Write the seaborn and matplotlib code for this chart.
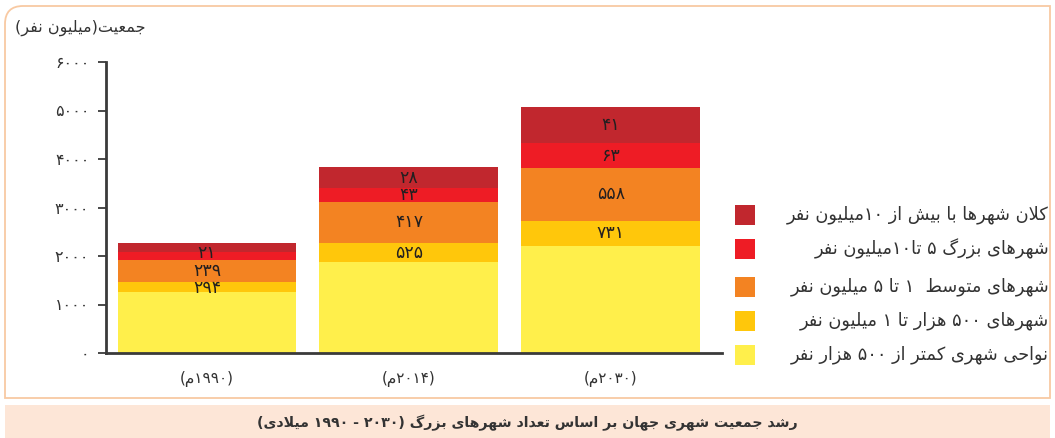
import unicodedata
import numpy as np
import matplotlib
matplotlib.use("Agg")
import matplotlib.pyplot as plt
from matplotlib.patches import Rectangle, PathPatch
from matplotlib.path import Path
import seaborn as sns

# ---------------- data ----------------
years = ["۱۹۹۰", "۲۰۱۴", "۲۰۳۰"]
xtick_labels = ["(۱۹۹۰م)", "(۲۰۱۴م)", "(۲۰۳۰م)"]
# population (million) per city-size class, bottom -> top
small_areas = [1268, 1872, 2214]      # < 500k
cities_500k_1m = [206, 391, 508]
medium_1_5m = [447, 858, 1097]
large_5_10m = [171, 274, 502]
mega_10m = [185, 446, 753]
# number of cities shown on segments (None = no label)
count_500k_1m = ["۲۹۴", "۵۲۵", "۷۳۱"]
count_medium = ["۲۳۹", "۴۱۷", "۵۵۸"]
count_large = ["۲۱", "۴۳", "۶۳"]
count_mega = [None, "۲۸", "۴۱"]

series_names = [
    "نواحی شهری کمتر از ۵۰۰ هزار نفر",
    "شهرهای ۵۰۰ هزار تا ۱ میلیون نفر",
    "شهرهای متوسط  ۱ تا ۵ میلیون نفر",
    "شهرهای بزرگ ۵ تا۱۰میلیون نفر",
    "کلان شهرها با بیش از ۱۰میلیون نفر",
]
colors = ["#FFEF4B", "#FFC70B", "#F38322", "#EE1C25", "#C1272E"]
yticks = [0, 1000, 2000, 3000, 4000, 5000, 6000]
ytick_labels = ["۰", "۱۰۰۰", "۲۰۰۰", "۳۰۰۰", "۴۰۰۰", "۵۰۰۰", "۶۰۰۰"]
ylabel = "جمعیت(میلیون نفر)"
title = "رشد جمعیت شهری جهان بر اساس تعداد شهرهای بزرگ (۲۰۳۰ - ۱۹۹۰ میلادی)"

# ---------------- Arabic/Persian shaping + simple bidi ----------------
def _lookup(name):
    try:
        return unicodedata.lookup(name)
    except KeyError:
        return None

ALEFS = set("اآأإ")

def _unit(ch):
    try:
        name = unicodedata.name(ch)
    except ValueError:
        return (ch, "U", None)
    if not name.startswith("ARABIC LETTER"):
        return (ch, "U", None)
    f = {
        "iso": _lookup(name + " ISOLATED FORM") or ch,
        "fin": _lookup(name + " FINAL FORM"),
        "ini": _lookup(name + " INITIAL FORM"),
        "med": _lookup(name + " MEDIAL FORM"),
    }
    if f["ini"] and f["med"] and f["fin"]:
        return (ch, "D", f)
    if f["fin"]:
        return (ch, "R", f)
    return (ch, "U", None)

def shape(text):
    units = []
    i = 0
    while i < len(text):
        ch = text[i]
        if ch == "ل" and i + 1 < len(text) and text[i + 1] in ALEFS:
            units.append(("لا", "R", {
                "iso": "\uFEFB", "fin": "\uFEFC", "ini": None, "med": None}))
            i += 2
            continue
        units.append(_unit(ch))
        i += 1
    out = []
    for k, (ch, t, f) in enumerate(units):
        if t == "U":
            out.append(ch)
            continue
        jp = k > 0 and units[k - 1][1] == "D"
        jn = t == "D" and k + 1 < len(units) and units[k + 1][1] in ("D", "R")
        if jp and jn:
            out.append(f["med"])
        elif jp:
            out.append(f["fin"])
        elif jn:
            out.append(f["ini"])
        else:
            out.append(f["iso"])
    return "".join(out)

DIGITS = set("0123456789۰۱۲۳۴۵۶۷۸۹")
MIRROR = {"(": ")", ")": "(", "[": "]", "]": "["}

def fa(text):
    s = shape(text)
    tokens = []
    i = 0
    while i < len(s):
        if s[i] in DIGITS:
            j = i
            while j < len(s) and s[j] in DIGITS:
                j += 1
            tokens.append(s[i:j])
            i = j
        else:
            tokens.append(MIRROR.get(s[i], s[i]))
            i += 1
    return "".join(reversed(tokens))

# ---------------- figure ----------------
sns.set_theme(style="white")
plt.rcParams["font.family"] = ["DejaVu Sans"]
W, H = 1055, 438
fig = plt.figure(figsize=(W / 100, H / 100), dpi=100)

def fx(px):
    return px / W

def fy(py):
    return 1 - py / H

# outer frame with rounded top-left corner
r = 18
x0, x1, yt, yb = 5, 1050, 6, 398
verts = [(x0, yb), (x0, yt + r), (x0, yt), (x0 + r, yt), (x1, yt), (x1, yb), (x0, yb)]
codes = [Path.MOVETO, Path.LINETO, Path.CURVE3, Path.CURVE3, Path.LINETO, Path.LINETO, Path.CLOSEPOLY]
frame = PathPatch(Path([(fx(a), fy(b)) for a, b in verts], codes),
                  transform=fig.transFigure, facecolor="white",
                  edgecolor="#F8C9A2", lw=1.3, zorder=0)
fig.add_artist(frame)
# title band
fig.add_artist(Rectangle((fx(5), 0), fx(1045), fy(405), transform=fig.transFigure,
                         facecolor="#FDE6D7", edgecolor="none", zorder=0))
fig.text(0.5, fy(423), fa(title), ha="center", va="center",
         fontsize=10.2, fontweight="bold", color="#333333")

ax = fig.add_axes([fx(106), fy(353), fx(722 - 106), (353 - 62) / H])
ax.set_facecolor("none")

layers = [small_areas, cities_500k_1m, medium_1_5m, large_5_10m, mega_10m]
cum = np.cumsum(np.array(layers, dtype=float), axis=0)
for k in range(len(layers) - 1, -1, -1):
    sns.barplot(x=years, y=cum[k], color=colors[k], saturation=1,
                width=0.886, errorbar=None, ax=ax, zorder=2,
                linewidth=0, edgecolor="none")

# segment count labels, spread apart where segments are thin
counts = [None, count_500k_1m, count_medium, count_large, count_mega]
gap = 360.0
for i in range(len(years)):
    items = []
    for k in range(1, len(layers)):
        lab = counts[k][i]
        if lab is None:
            continue
        items.append([cum[k][i] - layers[k][i] / 2, lab])
    for _ in range(200):
        for a in range(len(items) - 1):
            d = items[a + 1][0] - items[a][0]
            if d < gap:
                shift = (gap - d) / 2
                items[a][0] -= shift
                items[a + 1][0] += shift
    for yv, lab in items:
        ax.text(i, yv, fa(lab), ha="center", va="center",
                fontsize=12.5, color="#231F20", zorder=5)

ax.set_xlim(-0.5, 2.55)
ax.set_ylim(0, 6000)
ax.set_yticks(yticks)
ax.set_yticklabels([fa(t) for t in ytick_labels], fontsize=11.5, color="#333333")
ax.set_xticks(range(len(years)))
ax.set_xticklabels([fa(t) for t in xtick_labels], fontsize=11, color="#333333")
ax.set_xlabel("")
ax.set_ylabel("")
for s in ["top", "right"]:
    ax.spines[s].set_visible(False)
for s in ["left", "bottom"]:
    ax.spines[s].set_color("#3a3a3a")
    ax.spines[s].set_linewidth(2)
ax.tick_params(axis="y", which="both", left=True, length=6, width=1.3,
               color="#3a3a3a", pad=6)
ax.tick_params(axis="x", which="both", bottom=False, pad=7)
ax.grid(False)

fig.text(fx(15), fy(28), fa(ylabel), ha="left", va="center",
         fontsize=11.5, color="#333333")

# legend (top entry = top layer)
rows_y = [215, 249, 287, 321, 355]
for j, k in enumerate(range(len(layers) - 1, -1, -1)):
    yy = rows_y[j]
    fig.add_artist(Rectangle((fx(735), fy(yy + 10)), fx(20), 20 / H,
                             transform=fig.transFigure, facecolor=colors[k],
                             edgecolor="none"))
    fig.text(fx(1049), fy(yy), fa(series_names[k]), ha="right", va="center",
             fontsize=12.8, color="#333333")

fig.savefig("out.png", dpi=100)
